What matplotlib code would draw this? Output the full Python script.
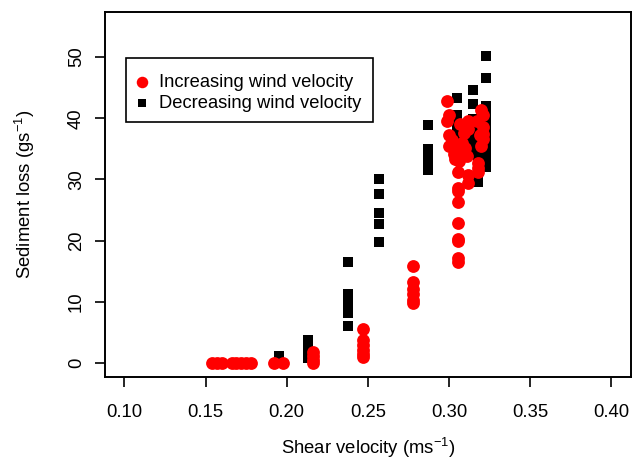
import matplotlib
matplotlib.use("Agg")
import matplotlib.pyplot as plt
from matplotlib.patches import Rectangle

plt.rcParams["font.family"] = ["Liberation Sans", "DejaVu Sans"]
plt.rcParams["mathtext.fontset"] = "custom"
plt.rcParams["mathtext.rm"] = "Liberation Sans"
plt.rcParams["mathtext.it"] = "Liberation Sans"

# Increasing wind velocity runs: shear velocity (m/s) vs sediment loss (g/s)
u_inc = [0.154, 0.157, 0.160, 0.166, 0.169, 0.172, 0.175, 0.178, 0.192, 0.198,
         0.216, 0.216, 0.216, 0.216,
         0.247, 0.247, 0.247, 0.247, 0.247, 0.247,
         0.278, 0.278, 0.278, 0.278, 0.278, 0.278,
         0.3055, 0.3055, 0.3055, 0.3055, 0.3055, 0.3055, 0.3055, 0.3055,
         0.299, 0.300, 0.299, 0.300, 0.300, 0.302, 0.303, 0.304, 0.306, 0.306,
         0.307, 0.308, 0.309, 0.309, 0.309, 0.310, 0.311, 0.312, 0.312, 0.3055,
         0.312, 0.312, 0.317, 0.318, 0.318, 0.318, 0.319, 0.320, 0.321, 0.321,
         0.321, 0.321, 0.320]
q_inc = [0, 0, 0, 0, 0, 0, 0, 0, 0, 0,
         1.9, 1.2, 0.5, 0.0,
         5.6, 3.8, 3.0, 2.2, 1.5, 1.0,
         15.8, 13.3, 12.2, 11.3, 10.4, 9.9,
         28.6, 28.1, 26.3, 22.9, 20.3, 20.0, 17.2, 16.5,
         42.8, 40.6, 39.5, 37.3, 35.4, 36.5, 34.2, 33.4, 33.0, 35.0,
         39.0, 36.0, 38.7, 37.6, 34.3, 35.1, 33.8, 39.5, 38.3, 31.3,
         30.8, 29.4, 39.5, 32.7, 31.9, 31.3, 37.3, 41.4, 40.5, 38.5,
         37.5, 36.6, 35.5]

# Decreasing wind velocity runs
u_dec = [0.195, 0.195,
         0.213, 0.213, 0.213, 0.213,
         0.2375, 0.2375, 0.2375, 0.2375, 0.2375, 0.2375,
         0.257, 0.257, 0.257, 0.257, 0.257,
         0.287, 0.287, 0.287, 0.287, 0.287, 0.287,
         0.305, 0.305, 0.305, 0.305, 0.305, 0.305, 0.305,
         0.310, 0.310,
         0.3147, 0.3147, 0.3147, 0.3147, 0.3147, 0.3147, 0.3147,
         0.3177, 0.3177, 0.3177, 0.3177, 0.3177, 0.3177,
         0.323, 0.323, 0.323, 0.323, 0.323, 0.323, 0.323, 0.323, 0.323,
         0.323, 0.323, 0.323, 0.323]
q_dec = [0.0, 1.2,
         0.8, 1.8, 2.8, 3.8,
         16.6, 11.3, 10.5, 9.1, 8.2, 6.1,
         30.0, 27.7, 24.6, 22.8, 19.8,
         38.9, 35.0, 34.0, 33.0, 32.0, 31.6,
         43.3, 40.5, 39.0, 38.0, 37.0, 36.0, 35.0,
         38.5, 37.0,
         44.6, 42.4, 39.8, 39.0, 37.5, 36.0, 34.5,
         36.0, 35.0, 34.0, 33.0, 32.2, 29.6,
         50.2, 46.5, 42.0, 41.0, 40.0, 39.0, 38.0, 37.0,
         36.0, 35.0, 34.0, 33.0, 32.0]

x_ticks = [0.10, 0.15, 0.20, 0.25, 0.30, 0.35, 0.40]
y_ticks = [0, 10, 20, 30, 40, 50]

fig = plt.figure(figsize=(6.35, 4.59), dpi=100)
ax = fig.add_axes([0.1654, 0.1793, 0.8278, 0.7939])

ax.scatter(u_dec, q_dec, marker="s", s=44, color="black", linewidths=0,
           label="Decreasing wind velocity", zorder=2)
ax.scatter(u_inc, q_inc, marker="o", s=85, color="#ff0000", linewidths=0,
           label="Increasing wind velocity", zorder=3)

ax.set_xlim(0.088, 0.412)
ax.set_ylim(-2.2, 57.3)
ax.set_xticks(x_ticks)
ax.set_xticklabels([f"{v:.2f}" for v in x_ticks])
ax.set_yticks(y_ticks)
ax.tick_params(axis="both", direction="out", length=7.5, width=1.2,
               labelsize=13.3)
ax.tick_params(axis="x", pad=12)
ax.tick_params(axis="y", pad=7)
for lbl in ax.get_yticklabels():
    lbl.set_rotation(90)
    lbl.set_va("center")
for sp in ax.spines.values():
    sp.set_linewidth(1.4)

ax.set_xlabel("Shear velocity (ms$^{-1}$)", fontsize=13.3)
ax.set_ylabel("Sediment loss (gs$^{-1}$)", fontsize=13.3)
ax.xaxis.set_label_coords(0.5, -0.163)
ax.yaxis.set_label_coords(-0.13, 0.5)

# legend box drawn separately so its padding can be set freely
ax.add_patch(Rectangle((0.039, 0.699), 0.471, 0.176, transform=ax.transAxes,
                       facecolor="white", edgecolor="black", linewidth=1.2,
                       zorder=4))
handles, labels = ax.get_legend_handles_labels()
leg = ax.legend(handles[::-1], labels[::-1], loc="center left",
                bbox_to_anchor=(0.057, 0.778), borderaxespad=0, borderpad=0,
                fontsize=13.2, frameon=False,
                handletextpad=0.5, handlelength=0.8, labelspacing=0.22,
                markerscale=0.9)
leg.set_zorder(5)

fig.savefig("out.png", dpi=100)
